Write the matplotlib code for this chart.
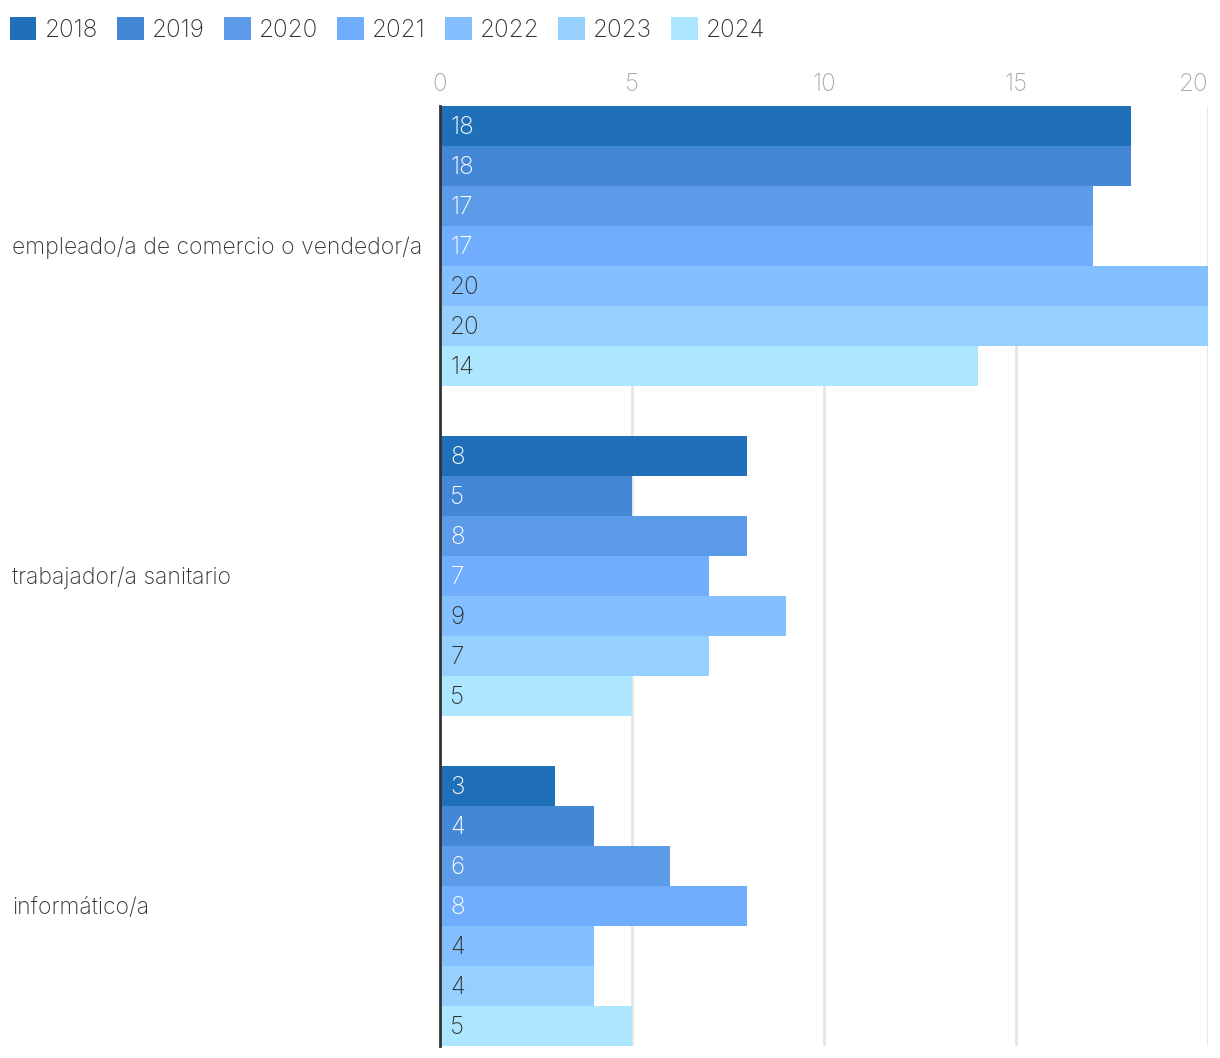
import matplotlib
matplotlib.use("Agg")
import matplotlib.pyplot as plt
import numpy as np
from matplotlib.transforms import blended_transform_factory

categories = ["empleado/a de comercio o vendedor/a", "trabajador/a sanitario", "informático/a"]
years = ["2018", "2019", "2020", "2021", "2022", "2023", "2024"]
values = {
    "2018": [18, 8, 3],
    "2019": [18, 5, 4],
    "2020": [17, 8, 6],
    "2021": [17, 7, 8],
    "2022": [20, 9, 4],
    "2023": [20, 7, 4],
    "2024": [14, 5, 5],
}
colors = ["#2070b9", "#4487d6", "#5b9be8", "#70adfc", "#84c0ff", "#96d0ff", "#ade6ff"]
label_colors = ["white", "white", "white", "white", "#333333", "#333333", "#333333"]
xticks = [0, 5, 10, 15, 20]

plt.rcParams['font.family'] = ['Inter', 'DejaVu Sans']
FW = "light"
FS = 17.5
FSC = 16.5

W, H = 1220, 1058
fig = plt.figure(figsize=(W / 100, H / 100), dpi=100)
ax = fig.add_axes([440 / W, 1 - 1046 / H, (1208 - 440) / W, (1046 - 106) / H])

n = len(years)
group = 280 / 330
bh = group / n
y = np.arange(len(categories))
for i, yr in enumerate(years):
    pos = y - group / 2 + bh * (i + 0.5)
    ax.barh(pos, values[yr], height=bh, color=colors[i], label=yr, zorder=2)
    for p, v in zip(pos, values[yr]):
        ax.text(0.27, p + 0.006, f"{v}", va="center", ha="left", fontsize=FS,
                color=label_colors[i], fontweight=FW, zorder=3)

ax.set_xlim(0, 20)
ax.set_ylim(len(categories) - 1 + group / 2, -group / 2)
ax.set_xticks(xticks)
ax.xaxis.tick_top()
ax.tick_params(axis="x", length=0, pad=7, labelsize=FS, labelcolor="#aaaaaa")
xl = ax.get_xticklabels()
for lbl in xl:
    lbl.set_fontweight(FW)
xl[-1].set_ha("right")
ax.set_yticks(y)
ax.set_yticklabels([])
ax.tick_params(axis="y", length=0)
ax.grid(axis="x", color="#e6e6e6", linewidth=2, zorder=0)
ax.grid(axis="y", visible=False)
for s in ["top", "right", "bottom"]:
    ax.spines[s].set_visible(False)
ax.spines["left"].set_color("#333333")
ax.spines["left"].set_linewidth(2)
ax.spines["left"].set_zorder(4)

tr = blended_transform_factory(fig.transFigure, ax.transData)
for yi, c in zip(y, categories):
    ax.text(12 / W, yi + 0.005, c, transform=tr, ha="left", va="center", fontsize=FSC,
            color="#333333", fontweight=FW)

leg = fig.legend(loc="upper left", bbox_to_anchor=(0 / W, 1 - 7 / H), ncol=7, frameon=False,
                 fontsize=FS, handlelength=1.1, handleheight=1.1, handletextpad=0.33,
                 columnspacing=0.79, borderaxespad=0)
for t in leg.get_texts():
    t.set_color("#333333")
    t.set_fontweight(FW)

fig.savefig("out.png", dpi=100, facecolor="white")
